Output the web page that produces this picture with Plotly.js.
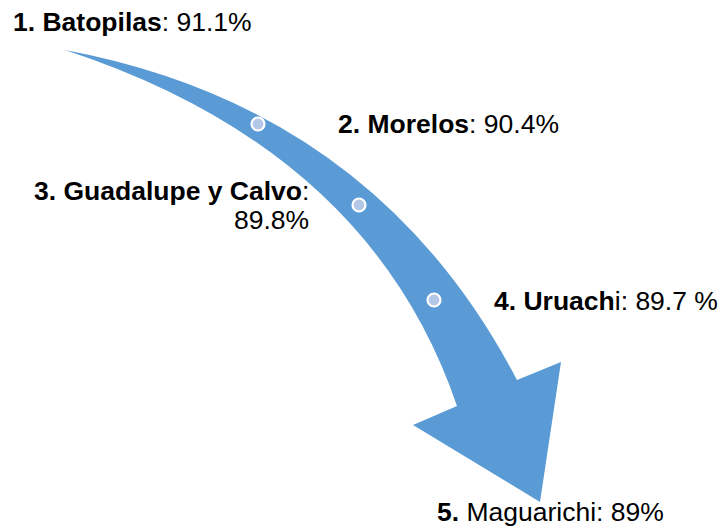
<!DOCTYPE html>
<html>
<head>
<meta charset="utf-8">
<script src="https://cdn.plot.ly/plotly-3.0.1.min.js"></script>
<style>html,body{margin:0;padding:0;background:#fff;}#chart{width:721px;height:529px;}</style>
</head>
<body>
<div id="chart"></div>
<script>
// ---- data ----
const ranks = [1, 2, 3, 4, 5];
const municipios = ['Batopilas', 'Morelos', 'Guadalupe y Calvo', 'Uruachi', 'Maguarichi'];
const valores = [91.1, 90.4, 89.8, 89.7, 89];
const valueLabels = ['91.1%', '90.4%', '89.8%', '89.7 %', '89%'];

// ---- layout (pixel coordinates of the infographic) ----
const W = 721, H = 529;
const FONT = 'Liberation Sans, Arial, sans-serif';
const FS = 26.5;
const boldChars = [null, null, null, 6, 0]; // how many name chars are bold (null = all)
const labelPos = [
  {x: 11, y: 22, anchor: 'left'},
  {x: 336, y: 124, anchor: 'left'},
  {x: 311, y: 191, anchor: 'right'},
  {x: 492, y: 301, anchor: 'left'},
  {x: 435, y: 512, anchor: 'left'}
];
const dotX = [258, 359, 434];
const dotY = [124, 205, 300];

const arrowPath = 'M65,50 Q375,108 517,380 L561,362 L540,502 L413,425 L457,406 Q370,150 65,50 Z';

function labelText(i) {
  const name = municipios[i];
  const b = boldChars[i];
  let namePart;
  if (b === null) namePart = '<b>' + ranks[i] + '. ' + name + '</b>';
  else if (b === 0) namePart = '<b>' + ranks[i] + '.</b> ' + name;
  else namePart = '<b>' + ranks[i] + '. ' + name.slice(0, b) + '</b>' + name.slice(b);
  return namePart;
}

const annotations = [];
ranks.forEach((r, i) => {
  const p = labelPos[i];
  if (i === 2) {
    annotations.push({x: p.x, y: p.y, xref: 'x', yref: 'y', text: labelText(i) + ':', showarrow: false,
      xanchor: 'right', yanchor: 'middle', font: {family: FONT, size: FS, color: '#000'}});
    annotations.push({x: p.x, y: p.y + 29, xref: 'x', yref: 'y', text: valueLabels[i], showarrow: false,
      xanchor: 'right', yanchor: 'middle', font: {family: FONT, size: FS, color: '#000'}});
  } else {
    annotations.push({x: p.x, y: p.y, xref: 'x', yref: 'y', text: labelText(i) + ': ' + valueLabels[i],
      showarrow: false, xanchor: p.anchor, yanchor: 'middle', font: {family: FONT, size: FS, color: '#000'}});
  }
});

const traces = [{
  type: 'scatter', mode: 'markers', x: dotX, y: dotY, hoverinfo: 'skip',
  marker: {size: 13, color: '#B4C7E7', line: {color: '#FFFFFF', width: 2.2}}
}];

const layout = {
  width: W, height: H,
  margin: {l: 0, r: 0, t: 0, b: 0},
  paper_bgcolor: '#fff', plot_bgcolor: '#fff',
  showlegend: false,
  xaxis: {range: [0, W], visible: false, fixedrange: true},
  yaxis: {range: [H, 0], visible: false, fixedrange: true},
  shapes: [{type: 'path', path: arrowPath, xref: 'x', yref: 'y', fillcolor: '#5B9BD5', line: {width: 0}, layer: 'below'}],
  annotations: annotations
};

Plotly.newPlot('chart', traces, layout, {staticPlot: true, displayModeBar: false});
</script>
</body>
</html>
